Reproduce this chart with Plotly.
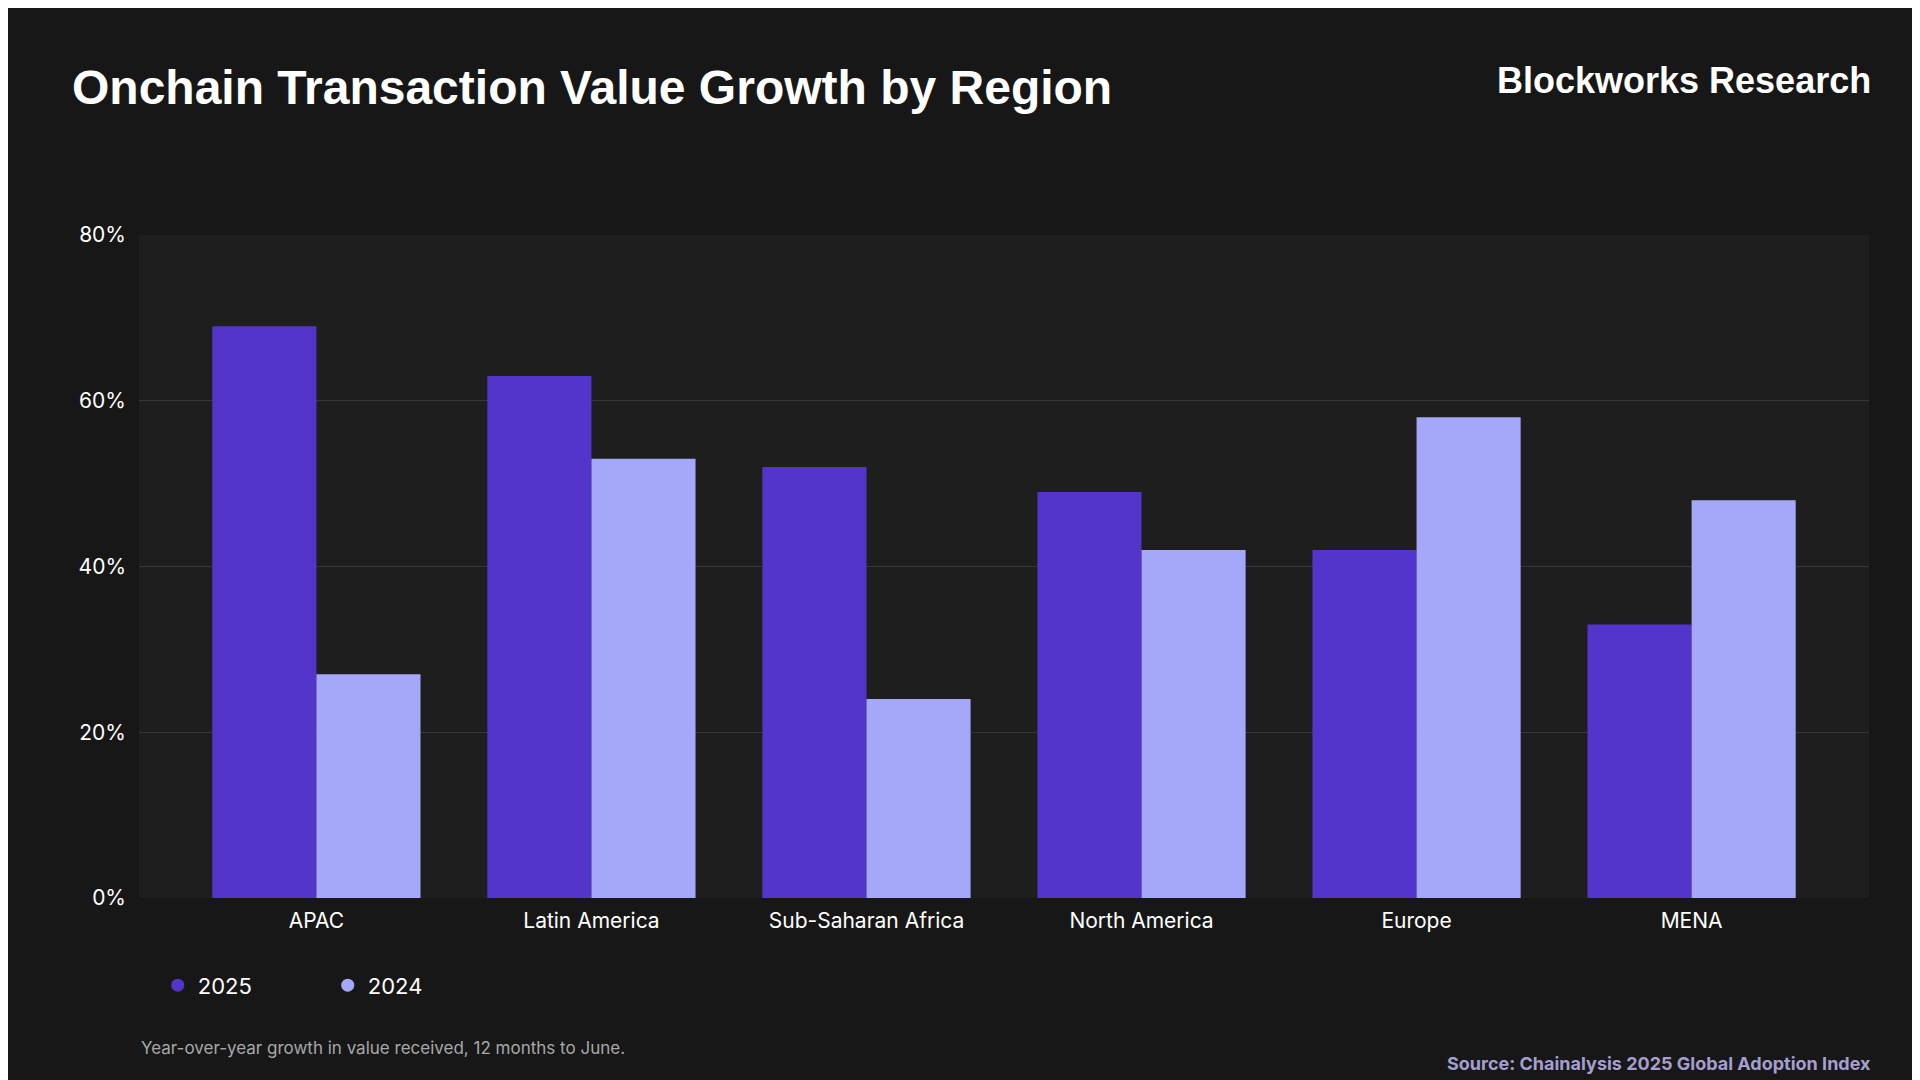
import plotly.graph_objects as go

regions = ["APAC", "Latin America", "Sub-Saharan Africa", "North America", "Europe", "MENA"]
v2025 = [69, 63, 52, 49, 42, 33]
v2024 = [27, 53, 24, 42, 58, 48]
ytick_vals = [0, 20, 40, 60, 80]
ytick_text = ["0%", "20%", "40%", "60%", "80%"]
c2025 = "#5435cc"
c2024 = "#a5a8f8"
FONT = "Inter"

fig = go.Figure()
fig.add_bar(x=regions, y=v2025, marker=dict(color=c2025, line=dict(width=0)), showlegend=False, name="2025")
fig.add_bar(x=regions, y=v2024, marker=dict(color=c2024, line=dict(width=0)), showlegend=False, name="2024")
fig.add_scatter(x=[None], y=[None], mode="markers", marker=dict(color=c2025, size=13), name="2025")
fig.add_scatter(x=[None], y=[None], mode="markers", marker=dict(color=c2024, size=13), name="2024")

def px(x): return (x - 131) / 1730
def py(y): return (890 - y) / 663

fig.update_layout(
    width=1920, height=1080,
    paper_bgcolor="#171717", plot_bgcolor="#1e1e1e",
    margin=dict(l=131, r=59, t=227, b=190),
    barmode="group", bargap=0.243, bargroupgap=0,
    font=dict(family=FONT, color="#ffffff", size=21),
    xaxis=dict(showgrid=False, ticks="", tickfont=dict(size=21), zeroline=False,
               range=[-0.645, 5.645], ticklabelstandoff=8),
    yaxis=dict(range=[0, 80], tickvals=ytick_vals, ticktext=ytick_text,
               gridcolor="#363636", gridwidth=1, zeroline=False, tickfont=dict(size=21),
               ticklabelstandoff=12),
    legend=dict(orientation="h", xref="container", yref="container",
                x=0.078, y=0.095, xanchor="left", yanchor="middle",
                font=dict(size=22), bgcolor="rgba(0,0,0,0)", itemwidth=30,
                tracegroupgap=0, entrywidthmode="pixels", entrywidth=125),
    annotations=[
        dict(text="<b>Onchain Transaction Value Growth by Region</b>", xref="paper", yref="paper",
             x=px(62), y=py(80), xanchor="left", yanchor="middle", showarrow=False,
             font=dict(family="Liberation Sans", size=48, color="#ffffff")),
        dict(text="<b>Blockworks Research</b>", xref="paper", yref="paper",
             x=px(1865), y=py(73), xanchor="right", yanchor="middle", showarrow=False,
             font=dict(family="Liberation Sans", size=36, color="#ffffff")),
        dict(text="Year-over-year growth in value received, 12 months to June.", xref="paper", yref="paper",
             x=px(131), y=py(1040), xanchor="left", yanchor="middle", showarrow=False,
             font=dict(family=FONT, size=17, color="#a8a8a8")),
        dict(text="<b>Source: Chainalysis 2025 Global Adoption Index</b>", xref="paper", yref="paper",
             x=px(1865), y=py(1055), xanchor="right", yanchor="middle", showarrow=False,
             font=dict(family=FONT, size=18, color="#a59fd0")),
    ],
)
fig.write_html("out.html")
